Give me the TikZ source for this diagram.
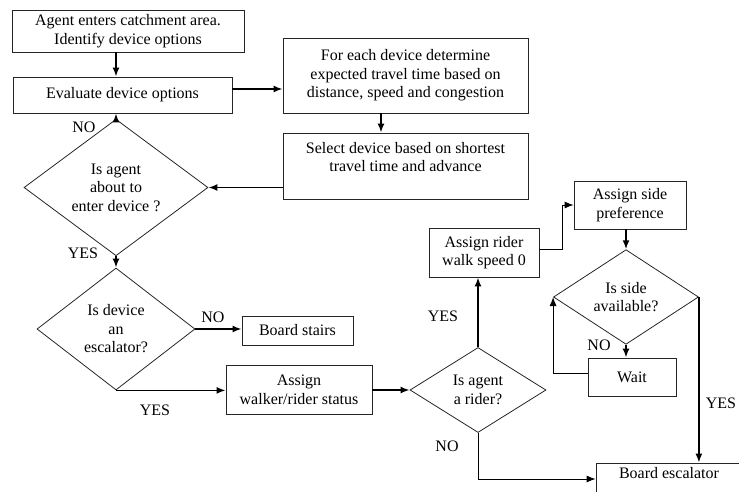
\documentclass[tikz,border=0pt]{standalone}
\usepackage{fontspec}
\setmainfont{Liberation Serif}
\usetikzlibrary{shapes.geometric,arrows.meta}

\begin{document}
\begin{tikzpicture}[x=1pt,y=-1pt,
    font=\fontsize{16}{18.5}\selectfont,
    box/.style={draw, black!85, text=black, line width=0.8pt, align=center, inner sep=0pt},
    decision/.style={draw, black!85, text=black, diamond, line width=0.8pt, align=center, inner sep=0pt},
    flow/.style={line width=1.7pt, -{Latex[length=9pt,width=7pt]}},
    link/.style={line width=0.9pt, -{Latex[length=9pt,width=7pt]}}]
    \useasboundingbox (0,0) rectangle (739,491);
    \clip (0,0) rectangle (739,491);

    % left column
    \node[box, minimum width=232pt, minimum height=42pt] (enter) at (128,31) {Agent enters catchment area.\\Identify device options};
    \node[box, minimum width=219pt, minimum height=36pt] (evaluate) at (122.5,95) {Evaluate device options};
    \node[decision, minimum width=184pt, minimum height=119pt] (about) at (116,187.5) {Is agent\\about to\\enter device ?};
    \node[decision, minimum width=158pt, minimum height=122pt] (escal) at (116,329) {Is device\\an\\escalator?};
    \node[box, minimum width=111pt, minimum height=29pt] (stairs) at (297.5,330.5) {Board stairs};
    \node[box, minimum width=146pt, minimum height=49pt] (status) at (299,390) {Assign\\walker/rider status};

    % travel time
    \node[box, minimum width=245pt, minimum height=75pt] (travel) at (405.5,75.5) {For each device determine\\expected travel time based on\\distance, speed and congestion};
    \node[box, minimum width=245pt, minimum height=66pt] (select) at (405.5,166) {Select device based on shortest\\travel time and advance\\ };

    % rider branch
    \node[decision, minimum width=136pt, minimum height=85pt] (rider) at (478,390) {Is agent\\a rider?};
    \node[box, minimum width=110pt, minimum height=49pt] (speed) at (484,252.5) {Assign rider\\walk speed 0};
    \node[box, minimum width=112pt, minimum height=48pt] (side) at (630,205) {Assign side\\preference};
    \node[decision, minimum width=145pt, minimum height=84pt] (avail) at (626,297) {Is side\\available?};
    \node[box, minimum width=88pt, minimum height=38pt] (wait) at (632,377) {Wait};
    \node[box, minimum width=146pt, minimum height=38pt] (board) at (669,482) {Board escalator\\ };

    % connectors
    \draw[flow] (enter.south -| about.north) -- (evaluate.north -| about.north);
    \draw[flow] ([yshift=6pt]evaluate.east) -- ([yshift=6pt]evaluate.east -| travel.west);
    \draw[flow] ([xshift=-24.5pt]travel.south) -- ([xshift=-24.5pt]select.north);
    \draw[flow] (select.west |- about.east) -- (about.east);
    \draw[flow] (about.north) -- (about.north |- evaluate.south);
    \draw[flow] (about.south) -- (escal.north);
    \draw[flow] (escal.east) -- (escal.east -| stairs.west);
    \draw[flow] (escal.south) -- (escal.south -| status.west);
    \draw[flow] (status.east) -- (rider.west);
    \draw[flow] (rider.north) -- (rider.north |- speed.south);
    \draw[link] ([yshift=3pt]speed.east) -- ++(23,0) |- (side.west);
    \draw[flow] (side.south -| avail.north) -- (avail.north);
    \draw[flow] (avail.south) -- (avail.south |- wait.north);
    \draw[link] ([yshift=4pt]wait.west) -| (avail.west);
    \draw[flow] (avail.east) -- (avail.east |- board.north);
    \draw[link] (rider.south) |- ([yshift=3pt]board.west);

    % labels
    \node (noAbout) at (84,127) {NO};
    \node (yesAbout) at (83,253) {YES};
    \node (noEscal) at (213,317) {NO};
    \node (yesEscal) at (155,410) {YES};
    \node (yesRider) at (443,316) {YES};
    \node (noRider) at (447,446) {NO};
    \node (noAvail) at (599,345) {NO};
    \node (yesAvail) at (721,403) {YES};
\end{tikzpicture}
\end{document}
